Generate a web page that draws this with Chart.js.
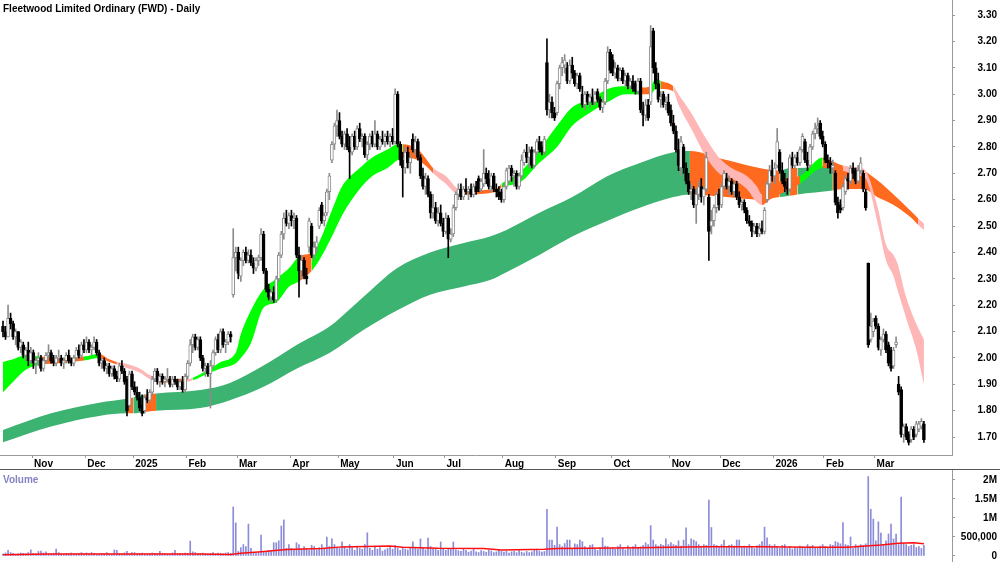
<!DOCTYPE html>
<html>
<head>
<meta charset="utf-8">
<script src="https://cdn.jsdelivr.net/npm/chart.js@4.4.1/dist/chart.umd.min.js"></script>
<style>
  body { margin: 0; background: #fff; overflow: hidden; }
  #wrap { position: relative; width: 1000px; height: 562px; }
  canvas { position: absolute; left: 0; }
  #price { top: 0; }
  #vol { top: 470px; }
  .lbl { position: absolute; font-family: "Liberation Sans", Arial, sans-serif; font-weight: bold; white-space: nowrap; }
  #title { left: 3px; top: 2px; font-size: 10px; line-height: 13px; color: #000; }
  #volTitle { left: 3px; top: 474px; font-size: 10px; line-height: 12px; color: #8484c4; }
  #sep { position: absolute; left: 0; top: 469px; width: 1000px; height: 1px; background: #555; }
</style>
</head>
<body>
<div id="wrap">
  <canvas id="price" width="1000" height="469"></canvas>
  <div id="sep"></div>
  <canvas id="vol" width="1000" height="92"></canvas>
  <div id="title" class="lbl">Fleetwood Limited Ordinary (FWD) - Daily</div>
  <div id="volTitle" class="lbl">Volume</div>
</div>
<script>
// month labels and the bar index where each month starts
const monthLabels = ['Nov', 'Dec', '2025', 'Feb', 'Mar', 'Apr', 'May', 'Jun', 'Jul', 'Aug', 'Sep', 'Oct', 'Nov', 'Dec', '2026', 'Feb', 'Mar'];
const monthStart = [12, 33, 52, 73, 93, 114, 133, 155, 175, 198, 219, 241, 264, 284, 305, 325, 345];
const priceTicks = [1.7, 1.8, 1.9, 2.0, 2.1, 2.2, 2.3, 2.4, 2.5, 2.6, 2.7, 2.8, 2.9, 3.0, 3.1, 3.2, 3.3];
const volTicks = [0, 500, 1000, 1500, 2000];
const volTickLabels = ['0', '500,000', '1M', '1.5M', '2M'];

// daily bars: [open, high, low, close]
const ohlc = [
  // Oct 2024
  [2.12,2.14,2.08,2.10],[2.10,2.12,2.07,2.08],[2.08,2.20,2.08,2.15],[2.15,2.17,2.11,2.13],[2.13,2.14,2.07,2.08],[2.08,2.11,2.05,2.10],[2.10,2.10,2.03,2.04],[2.04,2.07,2.02,2.06],[2.05,2.06,2.00,2.01],[2.01,2.04,1.99,2.03],[2.03,2.06,1.97,1.99],[1.99,2.04,1.98,2.02],
  // Nov
  [2.02,2.03,1.96,1.98],[1.98,2.00,1.94,1.99],[1.99,2.02,1.97,2.00],[2.00,2.01,1.95,1.96],[1.96,2.00,1.95,1.99],[1.99,2.02,1.98,2.01],[2.01,2.05,2.00,2.02],[2.02,2.03,1.98,1.99],[1.99,2.01,1.97,1.98],[1.98,2.01,1.97,2.00],[2.00,2.03,1.99,2.00],[2.00,2.01,1.97,1.98],[1.98,2.00,1.96,1.99],[1.99,2.02,1.98,2.01],[2.01,2.03,1.98,1.99],[1.99,2.00,1.97,1.98],[1.98,2.01,1.97,2.00],[2.00,2.04,1.99,2.03],[2.03,2.05,2.00,2.01],[2.01,2.06,2.00,2.05],[2.05,2.07,2.02,2.03],
  // Dec
  [2.03,2.08,2.02,2.06],[2.06,2.07,2.02,2.03],[2.03,2.05,2.01,2.04],[2.04,2.08,2.03,2.06],[2.06,2.07,2.01,2.02],[2.02,2.03,1.97,1.98],[1.98,2.00,1.96,1.99],[1.99,2.00,1.95,1.96],[1.96,1.98,1.94,1.97],[1.97,1.98,1.93,1.94],[1.94,1.97,1.93,1.96],[1.96,1.97,1.92,1.93],[1.93,1.95,1.91,1.92],[1.92,1.98,1.91,1.97],[1.97,1.99,1.94,1.95],[1.95,1.96,1.90,1.91],[1.92,1.93,1.78,1.80],[1.82,1.95,1.81,1.94],[1.94,1.95,1.88,1.89],
  // Jan 2025
  [1.89,1.91,1.86,1.87],[1.87,1.89,1.84,1.85],[1.85,1.87,1.80,1.81],[1.82,1.86,1.78,1.79],[1.80,1.86,1.79,1.85],[1.85,1.88,1.83,1.84],[1.84,1.88,1.83,1.87],[1.87,1.93,1.86,1.92],[1.92,1.96,1.91,1.95],[1.95,1.96,1.90,1.91],[1.91,1.94,1.89,1.93],[1.93,1.94,1.90,1.91],[1.91,1.93,1.89,1.92],[1.92,1.96,1.91,1.92],[1.92,1.93,1.89,1.90],[1.90,1.93,1.89,1.92],[1.92,1.93,1.90,1.91],[1.91,1.92,1.88,1.89],[1.89,1.92,1.88,1.91],[1.91,1.93,1.87,1.88],[1.88,1.94,1.87,1.93],
  // Feb
  [1.93,1.99,1.92,1.98],[1.98,2.07,1.97,2.05],[2.05,2.09,2.02,2.08],[2.08,2.09,2.03,2.04],[2.04,2.08,2.03,2.07],[2.07,2.08,1.99,2.00],[2.00,2.01,1.95,1.96],[1.96,1.98,1.93,1.97],[1.97,1.98,1.93,1.94],[1.94,1.99,1.81,1.97],[1.97,2.03,1.96,2.02],[2.02,2.08,2.01,2.07],[2.07,2.09,2.02,2.03],[2.03,2.11,2.02,2.10],[2.10,2.11,2.04,2.05],[2.05,2.07,2.02,2.06],[2.06,2.10,2.05,2.09],[2.09,2.10,2.06,2.08],[2.24,2.49,2.23,2.38],[2.38,2.42,2.33,2.40],
  // Mar
  [2.40,2.42,2.30,2.32],[2.31,2.38,2.29,2.37],[2.37,2.41,2.35,2.40],[2.40,2.42,2.36,2.37],[2.37,2.41,2.36,2.39],[2.39,2.41,2.35,2.36],[2.36,2.38,2.32,2.34],[2.34,2.38,2.33,2.37],[2.37,2.39,2.35,2.38],[2.38,2.49,2.37,2.47],[2.47,2.48,2.32,2.33],[2.33,2.34,2.25,2.26],[2.26,2.28,2.22,2.23],[2.23,2.26,2.21,2.25],[2.25,2.27,2.21,2.22],[2.22,2.31,2.21,2.30],[2.30,2.40,2.29,2.39],[2.39,2.48,2.38,2.47],[2.47,2.55,2.45,2.53],[2.53,2.56,2.50,2.51],[2.51,2.55,2.49,2.54],
  // Apr
  [2.54,2.56,2.50,2.52],[2.52,2.55,2.49,2.53],[2.53,2.54,2.38,2.39],[2.39,2.42,2.23,2.33],[2.33,2.39,2.30,2.37],[2.37,2.38,2.30,2.31],[2.31,2.34,2.28,2.30],[2.42,2.53,2.40,2.52],[2.50,2.51,2.38,2.39],[2.39,2.44,2.37,2.42],[2.42,2.46,2.40,2.44],[2.50,2.57,2.49,2.56],[2.58,2.59,2.51,2.52],[2.52,2.55,2.50,2.54],[2.55,2.64,2.54,2.63],[2.63,2.70,2.60,2.69],[2.75,2.82,2.74,2.81],[2.81,2.89,2.79,2.88],[2.88,2.94,2.84,2.90],
  // May
  [2.90,2.93,2.83,2.84],[2.84,2.86,2.80,2.81],[2.81,2.86,2.79,2.85],[2.85,2.87,2.79,2.80],[2.80,2.84,2.68,2.78],[2.78,2.85,2.77,2.84],[2.84,2.86,2.79,2.80],[2.80,2.88,2.79,2.87],[2.87,2.89,2.82,2.83],[2.83,2.85,2.80,2.84],[2.84,2.85,2.76,2.77],[2.77,2.82,2.75,2.81],[2.81,2.85,2.79,2.84],[2.84,2.86,2.80,2.81],[2.81,2.90,2.80,2.85],[2.85,2.86,2.79,2.80],[2.80,2.84,2.79,2.83],[2.83,2.86,2.81,2.82],[2.82,2.85,2.80,2.84],[2.84,2.86,2.81,2.82],[2.82,2.85,2.80,2.84],[2.84,2.87,2.81,2.82],
  // Jun
  [2.82,3.02,2.81,3.00],[3.00,3.01,2.80,2.81],[2.81,2.82,2.73,2.75],[2.75,2.78,2.61,2.72],[2.72,2.80,2.70,2.78],[2.78,2.80,2.72,2.74],[2.74,2.77,2.70,2.76],[2.83,2.85,2.78,2.79],[2.79,2.84,2.77,2.82],[2.82,2.83,2.75,2.76],[2.76,2.77,2.68,2.69],[2.69,2.72,2.64,2.65],[2.65,2.70,2.62,2.68],[2.68,2.69,2.61,2.62],[2.62,2.63,2.53,2.55],[2.55,2.62,2.53,2.57],[2.57,2.59,2.51,2.52],[2.52,2.57,2.50,2.55],[2.55,2.58,2.50,2.51],[2.51,2.53,2.46,2.48],
  // Jul
  [2.48,2.55,2.47,2.53],[2.53,2.54,2.38,2.45],[2.45,2.49,2.44,2.47],[2.47,2.58,2.46,2.57],[2.57,2.63,2.56,2.62],[2.62,2.66,2.60,2.64],[2.64,2.66,2.60,2.61],[2.61,2.65,2.60,2.64],[2.64,2.68,2.62,2.63],[2.63,2.65,2.60,2.64],[2.64,2.66,2.61,2.62],[2.62,2.66,2.61,2.65],[2.65,2.67,2.62,2.63],[2.68,2.69,2.63,2.64],[2.64,2.68,2.63,2.67],[2.66,2.79,2.65,2.70],[2.70,2.72,2.66,2.68],[2.68,2.71,2.64,2.65],[2.65,2.70,2.63,2.69],[2.69,2.70,2.63,2.64],[2.64,2.66,2.61,2.63],[2.63,2.65,2.60,2.61],[2.63,2.64,2.59,2.60],
  // Aug
  [2.60,2.66,2.59,2.65],[2.65,2.72,2.64,2.71],[2.67,2.73,2.66,2.72],[2.72,2.73,2.67,2.69],[2.69,2.71,2.65,2.70],[2.70,2.71,2.64,2.65],[2.65,2.70,2.64,2.69],[2.69,2.77,2.68,2.75],[2.74,2.79,2.73,2.78],[2.78,2.81,2.74,2.76],[2.76,2.80,2.72,2.78],[2.79,2.80,2.72,2.73],[2.73,2.79,2.72,2.78],[2.78,2.83,2.77,2.82],[2.82,2.84,2.78,2.79],[2.80,2.82,2.77,2.78],[2.78,2.84,2.77,2.83],[3.12,3.21,2.92,2.94],[2.94,3.00,2.91,2.97],[2.97,2.99,2.91,2.93],[2.93,2.95,2.90,2.91],
  // Sep
  [2.93,3.05,2.92,3.04],[3.04,3.11,3.02,3.10],[3.10,3.14,3.07,3.12],[3.11,3.15,3.08,3.13],[3.10,3.12,3.04,3.05],[3.05,3.13,3.04,3.11],[3.11,3.14,3.06,3.08],[3.08,3.09,3.03,3.04],[3.04,3.08,3.02,3.07],[3.07,3.08,3.01,3.02],[3.00,3.03,2.95,2.96],[2.96,3.01,2.94,3.00],[3.00,3.01,2.96,2.97],[2.97,3.00,2.95,2.99],[2.99,3.02,2.96,2.97],[2.97,3.01,2.96,3.00],[3.01,3.02,2.97,2.98],[2.98,2.99,2.94,2.95],[2.95,2.98,2.93,2.97],[2.97,3.06,2.96,3.05],[3.05,3.18,3.04,3.16],[3.16,3.17,3.08,3.09],
  // Oct
  [3.13,3.15,3.07,3.08],[3.08,3.12,3.06,3.10],[3.10,3.11,3.05,3.06],[3.06,3.10,3.05,3.09],[3.09,3.10,3.04,3.05],[3.05,3.08,3.03,3.07],[3.07,3.08,3.02,3.03],[3.03,3.06,3.02,3.05],[3.05,3.07,3.01,3.02],[3.04,3.05,3.00,3.01],[3.01,3.06,3.00,3.05],[3.05,3.06,2.93,2.94],[2.94,2.97,2.88,2.92],[2.92,2.98,2.90,2.96],[2.96,2.98,2.90,2.91],[2.97,3.26,2.96,3.18],[3.24,3.25,3.08,3.10],[3.10,3.12,3.02,3.04],[3.04,3.08,2.97,2.98],[2.98,3.01,2.95,2.99],[3.00,3.01,2.95,2.96],[2.96,2.99,2.94,2.97],[2.97,3.00,2.92,2.93],
  // Nov
  [2.94,2.96,2.88,2.89],[2.89,2.92,2.85,2.86],[2.86,2.88,2.78,2.79],[2.79,2.83,2.71,2.73],[2.72,2.84,2.69,2.82],[2.80,2.81,2.70,2.72],[2.72,2.74,2.66,2.67],[2.67,2.70,2.62,2.63],[2.63,2.66,2.60,2.64],[2.64,2.65,2.57,2.58],[2.58,2.64,2.51,2.62],[2.62,2.67,2.60,2.65],[2.65,2.68,2.59,2.61],[2.61,2.65,2.58,2.64],[2.64,2.78,2.63,2.76],[2.61,2.62,2.37,2.48],[2.50,2.56,2.47,2.52],[2.52,2.58,2.50,2.57],[2.57,2.63,2.55,2.62],[2.62,2.64,2.56,2.58],
  // Dec
  [2.58,2.66,2.57,2.65],[2.65,2.71,2.64,2.70],[2.68,2.70,2.64,2.65],[2.65,2.69,2.62,2.67],[2.67,2.68,2.62,2.63],[2.63,2.67,2.61,2.66],[2.66,2.67,2.60,2.61],[2.61,2.63,2.57,2.58],[2.58,2.60,2.56,2.59],[2.59,2.60,2.55,2.56],[2.56,2.57,2.51,2.52],[2.52,2.54,2.50,2.51],[2.51,2.52,2.46,2.48],[2.48,2.51,2.47,2.50],[2.50,2.51,2.46,2.47],[2.47,2.51,2.46,2.49],[2.49,2.52,2.47,2.48],[2.48,2.57,2.47,2.56],[2.60,2.67,2.59,2.66],[2.66,2.73,2.64,2.71],[2.71,2.75,2.67,2.69],
  // Jan 2026
  [2.69,2.74,2.66,2.72],[2.73,2.87,2.72,2.82],[2.78,2.79,2.70,2.71],[2.71,2.74,2.66,2.67],[2.67,2.70,2.63,2.65],[2.65,2.68,2.62,2.64],[2.64,2.77,2.63,2.76],[2.76,2.78,2.72,2.73],[2.73,2.77,2.72,2.76],[2.76,2.78,2.73,2.74],[2.74,2.80,2.73,2.79],[2.79,2.85,2.78,2.84],[2.82,2.83,2.74,2.75],[2.75,2.78,2.71,2.73],[2.73,2.81,2.72,2.80],[2.80,2.86,2.79,2.85],[2.85,2.89,2.83,2.87],[2.87,2.91,2.85,2.88],[2.89,2.90,2.83,2.84],[2.84,2.86,2.80,2.81],
  // Feb
  [2.81,2.82,2.74,2.75],[2.75,2.77,2.72,2.74],[2.74,2.76,2.70,2.72],[2.72,2.75,2.70,2.73],[2.70,2.71,2.58,2.59],[2.59,2.61,2.53,2.55],[2.58,2.60,2.55,2.56],[2.57,2.66,2.56,2.65],[2.63,2.69,2.62,2.68],[2.68,2.70,2.64,2.67],[2.67,2.73,2.66,2.72],[2.72,2.74,2.68,2.70],[2.71,2.72,2.66,2.67],[2.67,2.73,2.66,2.71],[2.71,2.76,2.70,2.74],[2.70,2.71,2.63,2.64],[2.63,2.64,2.56,2.57],[2.36,2.36,2.04,2.05],[2.07,2.17,2.06,2.12],[2.10,2.15,2.08,2.14],
  // Mar
  [2.15,2.16,2.11,2.12],[2.12,2.13,2.03,2.04],[2.03,2.08,2.01,2.07],[2.07,2.11,2.06,2.09],[2.09,2.10,2.02,2.03],[2.05,2.06,1.97,1.98],[2.03,2.04,1.95,1.96],[1.97,2.04,1.96,2.03],[2.05,2.08,2.04,2.06],[1.90,1.93,1.86,1.87],[1.88,1.89,1.70,1.71],[1.71,1.75,1.68,1.74],[1.74,1.75,1.69,1.70],[1.71,1.72,1.67,1.68],[1.69,1.74,1.68,1.73],[1.73,1.74,1.69,1.70],[1.71,1.76,1.70,1.75],[1.73,1.76,1.72,1.75],[1.74,1.77,1.73,1.76],[1.75,1.76,1.68,1.69]
];

// daily volume, thousands of shares
const volume = [
  60,80,150,90,70,50,60,80,70,60,90,160,
  70,60,120,130,80,110,60,50,70,180,90,60,50,70,60,80,50,60,70,90,60,
  80,60,90,70,50,60,70,60,90,60,50,160,150,70,60,80,120,60,90,
  90,60,70,80,60,50,60,80,70,60,120,70,60,50,60,80,150,60,70,50,80,
  70,390,110,90,60,70,80,60,50,70,90,60,80,70,60,80,90,70,1290,870,
  120,220,300,250,840,200,100,80,90,550,120,100,150,130,350,350,400,790,950,200,300,
  200,150,350,300,180,250,200,150,280,250,160,220,300,180,500,250,450,300,200,
  200,370,250,180,300,220,150,260,200,180,300,610,200,150,250,180,220,130,160,200,250,180,
  280,200,150,230,180,160,220,370,200,180,450,200,160,470,250,200,180,150,370,200,
  150,200,180,370,160,140,120,200,150,100,130,180,110,90,140,120,100,160,130,90,110,150,120,
  100,130,80,110,120,90,150,100,80,120,90,110,150,180,130,100,120,1230,420,420,280,
  760,300,250,330,420,420,200,320,300,420,380,250,200,280,300,200,150,220,480,260,250,200,
  220,180,250,300,200,160,270,190,250,300,200,240,280,350,300,800,420,300,260,310,280,450,300,
  350,300,280,400,260,420,740,300,450,420,380,300,250,300,280,1470,750,300,280,250,
  300,420,250,280,300,260,420,420,240,260,220,300,250,200,270,300,380,760,480,300,260,
  300,250,200,280,300,200,250,180,220,200,260,240,200,300,250,280,220,200,260,300,
  250,220,300,280,380,350,320,880,300,280,500,200,300,260,300,280,320,2090,1230,970,
  400,900,600,300,400,580,840,450,580,300,1550,320,300,250,280,300,220,250,200,280
];

// volume average line
const volAvgIdx = [0, 18, 78, 90, 94, 102, 112, 126, 134, 153, 158, 172, 190, 197, 214, 219, 230, 251, 277, 300, 319, 334, 341, 347, 354, 360, 364];
const volAvg = [30, 55, 55, 40, 70, 110, 170, 200, 240, 260, 230, 205, 200, 160, 175, 200, 205, 220, 245, 245, 228, 228, 263, 290, 333, 350, 320];

// short-term ribbon (G up, O mixed, P down)
const shortIdx = [0, 4, 9, 15, 22, 32, 38, 42, 45, 48, 54, 58, 62, 68, 73, 75, 82, 86, 92, 94, 98, 103, 108, 113, 117, 122, 125, 130, 134, 141, 146, 152, 156, 158, 164, 168, 170, 175, 180, 183, 195, 197, 205, 212, 219, 225, 232, 239, 246, 252, 256, 258, 260, 265, 267, 272, 278, 283, 288, 294, 298, 300, 303, 309, 315, 324, 328, 332, 339, 341, 346, 349, 352, 353.5, 357, 361, 364];
const shortTop = [1.985, 1.995, 2.01, 2.005, 2.00, 2.005, 2.015, 1.995, 1.985, 1.98, 1.96, 1.935, 1.925, 1.92, 1.92, 1.925, 1.96, 1.985, 2.02, 2.09, 2.18, 2.26, 2.30, 2.34, 2.385, 2.40, 2.44, 2.56, 2.65, 2.72, 2.76, 2.79, 2.81, 2.81, 2.79, 2.745, 2.72, 2.69, 2.64, 2.635, 2.64, 2.66, 2.71, 2.79, 2.88, 2.95, 2.98, 3.02, 3.03, 3.025, 3.03, 3.06, 3.05, 3.03, 3.00, 2.93, 2.83, 2.76, 2.72, 2.69, 2.65, 2.62, 2.64, 2.68, 2.69, 2.76, 2.745, 2.73, 2.72, 2.71, 2.56, 2.43, 2.39, 2.36, 2.23, 2.13, 2.07];
const shortBot = [1.87, 1.91, 1.955, 1.975, 1.98, 1.99, 2.00, 1.985, 1.975, 1.965, 1.945, 1.92, 1.905, 1.91, 1.91, 1.915, 1.945, 1.96, 1.98, 2.00, 2.056, 2.19, 2.21, 2.27, 2.29, 2.33, 2.37, 2.46, 2.54, 2.64, 2.69, 2.72, 2.75, 2.76, 2.75, 2.72, 2.70, 2.66, 2.62, 2.62, 2.63, 2.645, 2.67, 2.74, 2.80, 2.88, 2.93, 2.97, 3.00, 3.00, 3.00, 3.02, 3.02, 3.01, 2.96, 2.87, 2.76, 2.70, 2.68, 2.64, 2.59, 2.58, 2.60, 2.63, 2.66, 2.72, 2.72, 2.71, 2.69, 2.68, 2.50, 2.37, 2.31, 2.26, 2.15, 2.03, 1.90];
const shortState = ['G','G','G','O','O','G','O','O','P','P','P','P','O','O','P','G','G','G','G','G','G','G','G','G','O','G','G','G','G','G','G','G','G','O','O','O','P','P','P','O','O','G','G','G','G','G','G','G','G','O','G','G','O','P','P','P','P','P','P','P','P','O','O','O','G','O','O','P','P','P','P','P','P','P','P','P','P'];

// long-term ribbon
const longIdx = [0, 19, 38, 49, 51.5, 56, 60.5, 78, 89.7, 102.8, 116.2, 129.2, 142.3, 155.7, 168.8, 181.8, 192.5, 199, 212, 225, 239, 252, 265, 271.5, 286, 299, 307, 311, 314, 328, 332, 340, 345.5, 352, 358.5, 361.7, 364];
const longTop = [1.727, 1.79, 1.83, 1.845, 1.85, 1.86, 1.865, 1.878, 1.905, 1.97, 2.05, 2.12, 2.23, 2.34, 2.40, 2.435, 2.46, 2.485, 2.55, 2.61, 2.69, 2.74, 2.78, 2.785, 2.75, 2.72, 2.71, 2.72, 2.72, 2.73, 2.72, 2.71, 2.675, 2.62, 2.56, 2.53, 2.51];
const longBot = [1.68, 1.74, 1.78, 1.79, 1.79, 1.795, 1.80, 1.81, 1.84, 1.89, 1.96, 2.02, 2.105, 2.18, 2.24, 2.27, 2.295, 2.325, 2.39, 2.46, 2.52, 2.57, 2.61, 2.62, 2.61, 2.60, 2.61, 2.615, 2.62, 2.635, 2.64, 2.64, 2.61, 2.58, 2.535, 2.505, 2.485];
const longState = ['G','G','G','O','G','O','G','G','G','G','G','G','G','G','G','G','G','G','G','G','G','G','G','O','O','O','G','O','G','O','O','O','O','O','O','P','P'];

const FONT = '"Liberation Sans", Arial, sans-serif';
const shortPalette = { G: '#00ff00', O: '#ff6a1f', P: '#ffb6b6' };
const longPalette = { G: '#3cb371', O: '#ff6a1f', P: '#ffb6b6' };
const xMin = -1.186, xMax = 375.1;

function ribbon(idx, top, bot, state, palette, order, lowerIndex) {
  const lo = {
    type: 'line', data: idx.map((x, k) => ({ x, y: bot[k] })),
    borderWidth: 0, borderColor: 'transparent', pointRadius: 0, fill: false,
    cubicInterpolationMode: 'monotone', order
  };
  const hi = {
    type: 'line', data: idx.map((x, k) => ({ x, y: top[k] })),
    borderWidth: 0, borderColor: 'transparent', pointRadius: 0, fill: lowerIndex,
    cubicInterpolationMode: 'monotone', order,
    backgroundColor: palette[state[0]],
    segment: { backgroundColor: c => palette[state[c.p0DataIndex]] }
  };
  return [lo, hi];
}

const up = ohlc.map(b => b[3] >= b[0]);
const wicks = {
  type: 'bar', data: ohlc.map((b, i) => ({ x: i, y: [b[2], b[1]] })),
  backgroundColor: up.map(u => u ? '#8c8c8c' : '#000'),
  barThickness: 1, grouped: false, order: 1
};
const bodies = {
  type: 'bar', data: ohlc.map((b, i) => ({ x: i, y: [b[0], b[3]] })),
  backgroundColor: up.map(u => u ? '#fff' : '#000'),
  borderColor: up.map(u => u ? '#8c8c8c' : '#000'),
  borderWidth: 1, borderSkipped: false, barThickness: 3, minBarLength: 1,
  grouped: false, order: 0
};

new Chart(document.getElementById('price').getContext('2d'), {
  type: 'line',
  data: {
    datasets: [
      ...ribbon(longIdx, longTop, longBot, longState, longPalette, 3, 0),
      ...ribbon(shortIdx, shortTop, shortBot, shortState, shortPalette, 2, 2),
      wicks, bodies
    ]
  },
  options: {
    responsive: false, animation: false, devicePixelRatio: 1,
    layout: { padding: { left: 0, right: 3, top: 0, bottom: 0 } },
    plugins: { legend: { display: false }, tooltip: { enabled: false } },
    scales: {
      x: {
        type: 'linear', min: xMin, max: xMax, offset: false,
        afterBuildTicks: ax => { ax.ticks = monthStart.map(v => ({ value: v - 0.5 })); },
        afterFit: ax => { ax.height = 14; ax.paddingLeft = 0; ax.paddingRight = 0; },
        ticks: {
          autoSkip: false, maxRotation: 0, align: 'start', labelOffset: 2, padding: 0,
          font: { family: FONT, size: 10, weight: 'bold' }, color: '#000',
          callback: (v, i) => monthLabels[i]
        },
        grid: { offset: false, drawOnChartArea: false, tickLength: 3, color: '#999' },
        border: { color: '#999' }
      },
      y: {
        type: 'linear', position: 'right', min: 1.632, max: 3.357,
        afterBuildTicks: ax => { ax.ticks = priceTicks.map(v => ({ value: v })); },
        afterFit: ax => { ax.width = 45; ax.paddingTop = 0; ax.paddingBottom = 0; },
        ticks: {
          crossAlign: 'far', padding: 22,
          font: { family: FONT, size: 10, weight: 'bold' }, color: '#000',
          callback: v => v.toFixed(2)
        },
        grid: { drawOnChartArea: false, tickLength: 3, color: '#999' },
        border: { color: '#999' }
      }
    }
  }
});

new Chart(document.getElementById('vol').getContext('2d'), {
  type: 'line',
  data: {
    datasets: [
      {
        type: 'bar', data: volume.map((v, i) => ({ x: i, y: v })),
        backgroundColor: '#8c8cd9', barThickness: 1, grouped: false, order: 1
      },
      {
        type: 'line', data: volAvgIdx.map((x, k) => ({ x, y: volAvg[k] })),
        borderColor: '#ff1010', borderWidth: 1.5, pointRadius: 0, fill: false, order: 0
      }
    ]
  },
  options: {
    responsive: false, animation: false, devicePixelRatio: 1,
    layout: { padding: { left: 0, right: 3, top: 0, bottom: 0 } },
    plugins: { legend: { display: false }, tooltip: { enabled: false } },
    scales: {
      x: { type: 'linear', min: xMin, max: xMax, offset: false, display: false },
      y: {
        type: 'linear', position: 'right', min: -158, max: 2263,
        afterBuildTicks: ax => { ax.ticks = volTicks.map(v => ({ value: v })); },
        afterFit: ax => { ax.width = 45; ax.paddingTop = 0; ax.paddingBottom = 0; },
        ticks: {
          crossAlign: 'far', padding: 6,
          font: { family: FONT, size: 10, weight: 'bold' }, color: '#000',
          callback: (v, i) => volTickLabels[i]
        },
        grid: { drawOnChartArea: false, tickLength: 3, color: '#999' },
        border: { color: '#999' }
      }
    }
  }
});
</script>
</body>
</html>
